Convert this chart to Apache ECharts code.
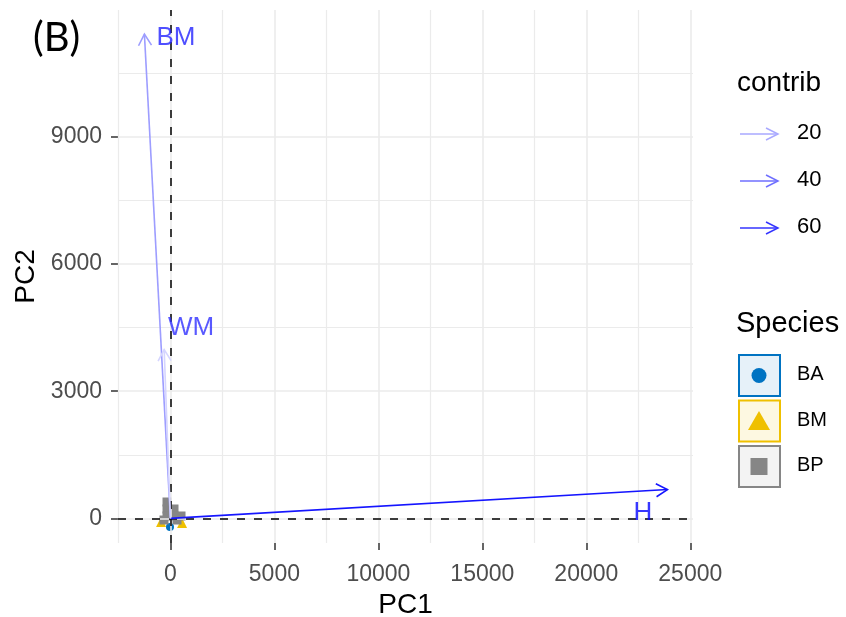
<!DOCTYPE html>
<html>
<head>
<meta charset="utf-8">
<script src="https://cdn.jsdelivr.net/npm/echarts@6/dist/echarts.min.js"></script>
<style>
html,body{margin:0;padding:0;background:#fff;}
#chart{width:846px;height:617px;}
</style>
</head>
<body>
<div id="chart"></div>
<script>
// ---- data ----
var xTicks = [0, 5000, 10000, 15000, 20000, 25000];
var yTicks = [0, 3000, 6000, 9000];
var xMinorGrid = [-2500, 2500, 7500, 12500, 17500, 22500];
var yMinorGrid = [1500, 4500, 7500, 10500];

var varNames   = ['H', 'BM', 'WM'];
var varPC1     = [23900, -1250, -300];
var varPC2     = [680, 11420, 3980];
var varContrib = [71, 24, 5];
var labelPC1   = [22720, 270, 990];
var labelPC2   = [127, 11330, 4490];

var contribLevels = [20, 40, 60];
var speciesNames  = ['BA', 'BM', 'BP'];

var baPC1 = [-20, -100, 200];
var baPC2 = [-205, 100, 50];
var bmPC1 = [-115, -450, 560, 220];
var bmPC2 = [292, -85, -108, 80];
var bpPC1 = [-163, -163, 173, -163, 173, 510, 317, -308];
var bpPC2 = [387, 222, 222, 57, 57, 57, -38, -38];

// ---- helpers ----
function zip(a, b) { return a.map(function (v, i) { return [v, b[i]]; }); }
function contribChannel(c) { return Math.max(0, Math.min(255, Math.round(227 - 2.9 * c))); }
function contribColor(c) { var v = contribChannel(c); return 'rgb(' + v + ',' + v + ',255)'; }
function contribLabelColor(c) { var v = Math.round(contribChannel(c) * 0.22); return 'rgb(' + v + ',' + v + ',255)'; }

var speciesColors = ['#0073C2', '#EFC000', '#868686'];
var speciesFills  = ['#E6F1F9', '#FDF8E1', '#F3F3F3'];
var speciesIcons  = ['circle', 'triangle', 'rect'];

var gridColor = '#EBEBEB';
var gridLines = [];
xTicks.forEach(function (v) { gridLines.push({ xAxis: v, lineStyle: { color: gridColor, width: 1.6, type: 'solid' } }); });
xMinorGrid.forEach(function (v) { gridLines.push({ xAxis: v, lineStyle: { color: gridColor, width: 1.2, type: 'solid' } }); });
yTicks.forEach(function (v) { gridLines.push({ yAxis: v, lineStyle: { color: gridColor, width: 1.6, type: 'solid' } }); });
yMinorGrid.forEach(function (v) { gridLines.push({ yAxis: v, lineStyle: { color: gridColor, width: 1.2, type: 'solid' } }); });

var arrowData = varNames.map(function (n, i) { return { name: n, value: [varPC1[i], varPC2[i], varContrib[i]] }; });
var labelData = varNames.map(function (n, i) { return { name: n, value: [labelPC1[i], labelPC2[i], varContrib[i]],
  label: { color: contribLabelColor(varContrib[i]) } }; });

var fontFam = '"Liberation Sans", Arial, sans-serif';

var chart = echarts.init(document.getElementById('chart'), null, { renderer: 'canvas' });

// ---- legend graphics ----
var graphics = [];
graphics.push({ type: 'text', left: 33, top: 18, style: { text: '(B)', font: '40px Lato, "Open Sans", sans-serif', fill: '#000' } });
graphics.push({ type: 'text', left: 737, top: 69, style: { text: 'contrib', font: '28px ' + fontFam, fill: '#000' } });
contribLevels.forEach(function (c, i) {
  var cy = 134 + i * 47;
  var col = contribColor(c);
  graphics.push({ type: 'line', shape: { x1: 740, y1: cy, x2: 778, y2: cy }, style: { stroke: col, lineWidth: 1.5 } });
  graphics.push({ type: 'polyline', shape: { points: [[766, cy - 6], [778, cy], [766, cy + 6]] }, style: { stroke: col, lineWidth: 1.5, fill: null } });
  graphics.push({ type: 'text', left: 797, top: cy - 12, style: { text: String(c), font: '22px ' + fontFam, fill: '#000' } });
});
graphics.push({ type: 'text', left: 736, top: 309, style: { text: 'Species', font: '29px ' + fontFam, fill: '#000' } });
speciesNames.forEach(function (s, i) {
  var top = 355 + i * 45.5;
  var cx = 759, cy = top + 20.5;
  graphics.push({ type: 'rect', shape: { x: 739, y: top, width: 41, height: 41 }, style: { fill: speciesFills[i], stroke: speciesColors[i], lineWidth: 2 } });
  if (speciesIcons[i] === 'circle') {
    graphics.push({ type: 'circle', shape: { cx: cx, cy: cy, r: 7.5 }, style: { fill: speciesColors[i] } });
  } else if (speciesIcons[i] === 'triangle') {
    graphics.push({ type: 'polygon', shape: { points: [[cx, cy - 10], [cx + 11, cy + 9], [cx - 11, cy + 9]] }, style: { fill: speciesColors[i] } });
  } else {
    graphics.push({ type: 'rect', shape: { x: cx - 8.5, y: cy - 8.5, width: 17, height: 17 }, style: { fill: speciesColors[i] } });
  }
  graphics.push({ type: 'text', left: 797, top: cy - 11, style: { text: s, font: '20px ' + fontFam, fill: '#000' } });
});

function plain(v) { return String(v); }

var option = {
  animation: false,
  backgroundColor: '#fff',
  textStyle: { fontFamily: fontFam },
  grid: { left: 118, right: 153, top: 10, bottom: 74, containLabel: false, outerBoundsMode: 'none' },
  xAxis: {
    type: 'value', min: -2520, max: 25130,
    name: 'PC1', nameLocation: 'middle', nameGap: 41,
    nameTextStyle: { fontSize: 28, color: '#000', fontFamily: fontFam },
    axisLine: { show: false, onZero: false },
    axisTick: { show: true, inside: false, length: 7, customValues: xTicks, lineStyle: { color: '#333', width: 1.5 } },
    axisLabel: { customValues: xTicks, formatter: plain, fontSize: 23, color: '#4D4D4D', margin: 20, fontFamily: fontFam },
    splitLine: { show: false }
  },
  yAxis: {
    type: 'value', min: -580, max: 11990,
    name: 'PC2', nameLocation: 'middle', nameGap: 78, nameRotate: 90,
    nameTextStyle: { fontSize: 28, color: '#000', fontFamily: fontFam },
    axisLine: { show: false, onZero: false },
    axisTick: { show: true, inside: false, length: 7, customValues: yTicks, lineStyle: { color: '#333', width: 1.5 } },
    axisLabel: { customValues: yTicks, formatter: plain, fontSize: 23, color: '#4D4D4D', margin: 16, fontFamily: fontFam },
    splitLine: { show: false }
  },
  graphic: graphics,
  series: [
    {
      type: 'scatter', data: [], silent: true, z: 0,
      markLine: { silent: true, symbol: 'none', label: { show: false }, data: gridLines, animation: false }
    },
    { name: 'BA', type: 'scatter', symbol: 'circle', symbolSize: 8, data: zip(baPC1, baPC2), itemStyle: { color: speciesColors[0], opacity: 1 }, z: 2 },
    { name: 'BM', type: 'scatter', symbol: 'triangle', symbolSize: 10, data: zip(bmPC1, bmPC2), itemStyle: { color: speciesColors[1], opacity: 1 }, z: 3 },
    { name: 'BP', type: 'scatter', symbol: 'rect', symbolSize: 9, data: zip(bpPC1, bpPC2), itemStyle: { color: speciesColors[2], opacity: 1 }, z: 4 },
    {
      type: 'scatter', data: [], silent: true, z: 6,
      markLine: {
        silent: true, symbol: 'none', label: { show: false }, animation: false,
        lineStyle: { color: '#000', type: [8, 9], width: 1.5 },
        data: [{ xAxis: 0 }, { yAxis: 0 }]
      }
    },
    {
      type: 'custom', z: 7, silent: true, data: arrowData,
      renderItem: function (params, api) {
        var x = api.value(0), y = api.value(1), c = api.value(2);
        var p0 = api.coord([0, 0]), p1 = api.coord([x, y]);
        var ang = Math.atan2(p1[1] - p0[1], p1[0] - p0[0]);
        var L = 13, a = Math.PI / 6;
        var h1 = [p1[0] - L * Math.cos(ang - a), p1[1] - L * Math.sin(ang - a)];
        var h2 = [p1[0] - L * Math.cos(ang + a), p1[1] - L * Math.sin(ang + a)];
        var col = contribColor(c);
        return { type: 'group', children: [
          { type: 'line', shape: { x1: p0[0], y1: p0[1], x2: p1[0], y2: p1[1] }, style: { stroke: col, lineWidth: 1.6 } },
          { type: 'polyline', shape: { points: [h1, p1, h2] }, style: { stroke: col, lineWidth: 1.6, fill: null } }
        ] };
      }
    },
    {
      type: 'scatter', z: 8, silent: true, symbolSize: 0, data: labelData,
      label: { show: true, position: 'inside', formatter: function (p) { return p.name; }, fontSize: 26, fontFamily: fontFam }
    }
  ]
};
chart.setOption(option);
</script>
</body>
</html>
